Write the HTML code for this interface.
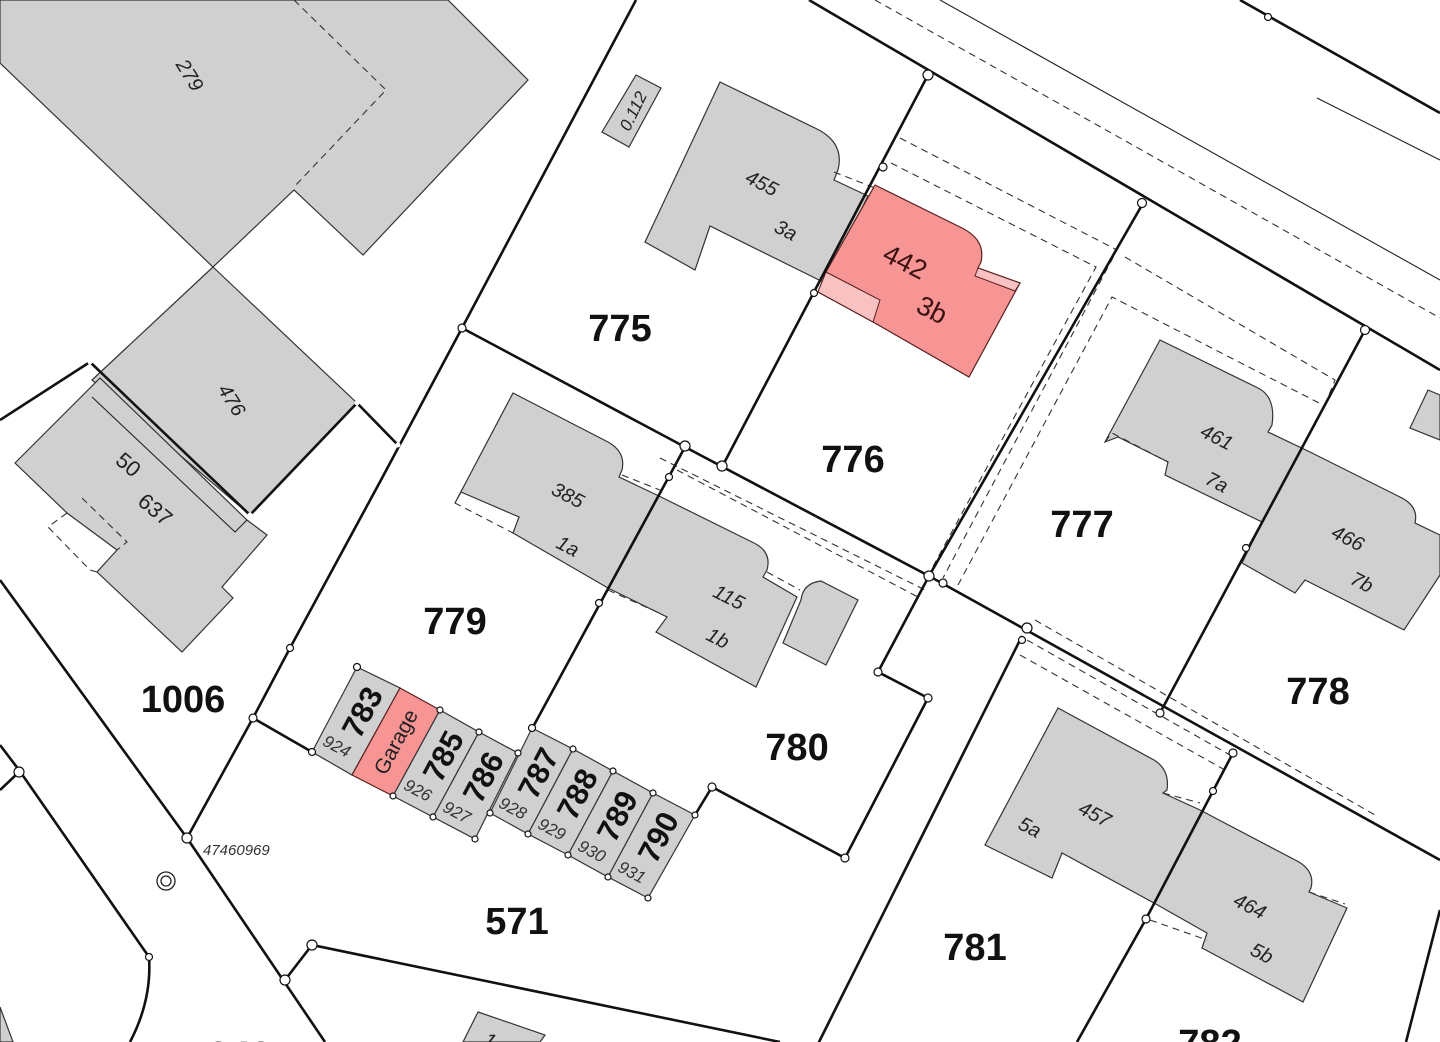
<!DOCTYPE html>
<html><head><meta charset="utf-8"><style>
html,body{margin:0;padding:0;background:#fff;}
svg{display:block;}
text{font-family:"Liberation Sans",sans-serif;}
.b{fill:#d0d0d0;stroke:#333;stroke-width:1.2;}
.p{fill:#f79494;stroke:#5a2020;stroke-width:1.2;}
.lp{fill:#f8c2c2;stroke:#5a2020;stroke-width:1;}
.L{stroke:#111;stroke-width:2.6;fill:none;}
.t{stroke:#222;stroke-width:1.1;fill:none;}
.d{stroke:#333;stroke-width:1.1;fill:none;stroke-dasharray:7 5;}
.n{fill:#fff;stroke:#111;stroke-width:1.2;}
.big{font-weight:bold;font-size:38px;fill:#111;text-anchor:middle;}
.sm{font-style:italic;font-size:20px;fill:#222;text-anchor:middle;}
.g{font-weight:bold;font-size:31px;fill:#111;text-anchor:middle;}
.gs{font-style:italic;font-size:17px;fill:#333;text-anchor:middle;}
.pk{font-size:27px;fill:#3a1010;text-anchor:middle;}
</style></head><body>
<svg width="1440" height="1042" viewBox="0 0 1440 1042" xmlns="http://www.w3.org/2000/svg">
<rect width="1440" height="1042" fill="#fff"/>
<!-- buildings left -->
<polygon class="b" points="0,0 448,0 528,80 363,255 294,190 213,267 0,63"/>
<polyline class="d" points="294,0 386,90 294,187"/>
<polygon class="b" points="213,267 357,403 250,515 92,380"/>
<polygon class="b" points="15,463 100,378 247,520 267,535 222,587 233,598 182,652 97,572 117,550 67,513"/>
<polyline class="d" points="67,513 48,527 90,570 97,572"/>
<polyline class="d" points="82,498 127,542 117,550"/>
<polyline class="t" points="92,397 235,532 247,520"/>
<line class="L" x1="90" y1="362" x2="250" y2="515"/>
<line class="L" x1="357" y1="403" x2="250" y2="515"/>
<line class="L" x1="0" y1="420" x2="90" y2="362"/>
<line class="L" x1="357" y1="403" x2="398" y2="445"/>
<!-- 0.112 box -->
<polygon class="b" points="636,75 661,88 629,147 602,132"/>
<text class="sm" style="font-size:17px" transform="translate(633,111) rotate(-64)" dy="6">0.112</text>
<!-- 455 -->
<path class="b" d="M720,82 L815,128 Q845,142 838,170 L834,180 L868,196 L825,283 L710,226 L695,270 L645,242 Z"/>
<line class="d" x1="834" y1="172" x2="880" y2="190"/>
<!-- 442 -->
<path class="p" d="M875,185 L962,228 Q986,240 981,262 L978,268 L1020,283 L969,377 L873,322 L818,292 L826,272 Z"/>
<polygon class="lp" points="826,272 880,300 873,322 818,292"/>
<polygon class="lp" points="978,268 1020,283 1015,291 975,276"/>
<!-- 385 + 115 -->
<path class="b" d="M513,393 L608,442 Q626,452 622,470 L619,477 L661,497 L754,543 Q772,552 767,570 L763,577 L797,597 L756,687 L656,632 L667,617 L608,588 L513,533 L519,517 L461,492 L455,503 Z"/>
<polyline class="d" points="461,492 455,503 513,533"/>
<polyline class="d" points="608,590 657,612"/>
<path class="b" d="M801,600 Q803,583 821,581 L858,600 L826,665 L783,643 Z"/>
<line class="d" x1="622" y1="475" x2="660" y2="490"/>
<line class="d" x1="767" y1="572" x2="800" y2="590"/>
<!-- 461 + 466 -->
<path class="b" d="M1160,340 L1258,388 Q1276,397 1272,425 L1268,432 L1310,452 L1400,497 Q1419,506 1415,523 L1440,535 L1440,575 L1404,630 L1305,580 L1295,593 L1242,563 L1262,522 L1165,475 L1168,462 L1118,437 L1105,442 Z"/>
<polyline class="d" points="1105,442 1112,433 1168,462"/>
<polygon class="b" points="1428,390 1440,395 1440,440 1410,428"/>
<!-- 457 + 464 -->
<path class="b" d="M1058,708 L1154,760 Q1170,770 1167,790 L1163,793 L1200,810 L1299,862 Q1315,872 1311,888 L1309,892 L1347,908 L1303,1002 L1202,948 L1207,933 L1154,903 L1062,853 L1052,878 L985,845 Z"/>
<line class="d" x1="1163" y1="793" x2="1200" y2="803"/>
<line class="d" x1="1309" y1="892" x2="1345" y2="904"/>
<line class="d" x1="1150" y1="920" x2="1207" y2="940"/>
<!-- bottom buildings -->
<polygon class="b" points="478,1012 545,1035 540,1042 463,1042"/>
<polygon class="b" points="0,1007 13,1042 0,1042"/>
<!-- dashed lines -->
<line class="d" x1="875" y1="0" x2="1440" y2="318"/>
<line class="t" x1="940" y1="0" x2="1440" y2="280"/>
<line class="t" x1="1317" y1="98" x2="1440" y2="160"/>
<polyline class="d" points="900,138 1117,250 943,578"/>
<polyline class="d" points="891,163 1096,267 930,572"/>
<polyline class="d" points="1125,257 1335,380 1325,405"/>
<polyline class="d" points="958,585 1112,297 1323,405"/>
<line class="d" x1="677" y1="470" x2="918" y2="597"/>
<line class="d" x1="660" y1="458" x2="925" y2="590"/>
<line class="d" x1="1027" y1="640" x2="1230" y2="755"/>
<line class="d" x1="1035" y1="620" x2="1375" y2="815"/>
<line class="d" x1="1020" y1="655" x2="1225" y2="770"/>
<!-- parcel lines -->
<polyline class="L" points="636,0 462,328 381,480 290,648 253,718 187,838 325,1042"/>
<polyline class="L" points="0,580 187,838"/>
<polyline class="L" points="0,745 19,770 149,957"/>
<path class="L" d="M149,957 Q152,1000 130,1042"/>
<line class="L" x1="19" y1="772" x2="0" y2="790"/>
<polyline class="L" points="285,980 312,945 780,1042"/>
<polyline class="L" points="462,328 685,447 929,576 1440,860"/>
<polyline class="L" points="928,75 722,467"/>
<polyline class="L" points="809,0 1440,370"/>
<polyline class="L" points="1142,205 929,576"/>
<polyline class="L" points="1365,330 1160,713"/>
<polyline class="L" points="1240,0 1440,113"/>
<polyline class="L" points="1022,636 800,1080"/>
<polyline class="L" points="929,576 878,672 928,698 845,858 712,787 695,815"/>
<polyline class="L" points="1233,753 1213,791 1146,919 1077,1042"/>
<polyline class="L" points="1440,910 1406,1042"/>
<polyline class="L" points="685,447 533,727"/>
<polyline class="L" points="253,718 312,752"/>
<!-- garages -->
<g>
<polygon class="b" stroke-width="2" stroke="#111" points="357,667 400,688 352,775 312,752"/>
<polygon class="p" stroke-width="2" stroke="#111" points="400,688 440,710 393,796 352,775"/>
<polygon class="b" stroke-width="2" stroke="#111" points="440,710 479,732 433,817 393,796"/>
<polygon class="b" stroke-width="2" stroke="#111" points="479,732 518,753 475,839 433,817"/>
<polygon class="b" stroke-width="2" stroke="#111" points="532,728 573,749 528,834 490,813"/>
<polygon class="b" stroke-width="2" stroke="#111" points="573,749 613,771 568,855 528,834"/>
<polygon class="b" stroke-width="2" stroke="#111" points="613,771 653,793 608,877 568,855"/>
<polygon class="b" stroke-width="2" stroke="#111" points="653,793 695,815 648,898 608,877"/>
</g>
<text class="g" transform="translate(362,712) rotate(-62)" dy="11">783</text>
<text font-size="21" fill="#222" text-anchor="middle" transform="translate(396,742) rotate(-62)" dy="7">Garage</text>
<text class="g" transform="translate(443,756) rotate(-62)" dy="11">785</text>
<text class="g" transform="translate(483,777) rotate(-62)" dy="11">786</text>
<text class="g" transform="translate(538,773) rotate(-62)" dy="11">787</text>
<text class="g" transform="translate(577,794) rotate(-62)" dy="11">788</text>
<text class="g" transform="translate(617,816) rotate(-62)" dy="11">789</text>
<text class="g" transform="translate(658,837) rotate(-62)" dy="11">790</text>
<text class="gs" transform="translate(337,746) rotate(28)" dy="6">924</text>
<text class="gs" transform="translate(418,790) rotate(28)" dy="6">926</text>
<text class="gs" transform="translate(457,812) rotate(28)" dy="6">927</text>
<text class="gs" transform="translate(513,808) rotate(28)" dy="6">928</text>
<text class="gs" transform="translate(552,829) rotate(28)" dy="6">929</text>
<text class="gs" transform="translate(592,851) rotate(28)" dy="6">930</text>
<text class="gs" transform="translate(632,872) rotate(28)" dy="6">931</text>
<!-- nodes -->
<g>
<circle class="n" cx="462" cy="328" r="4"/><circle class="n" cx="685" cy="446" r="5"/><circle class="n" cx="722" cy="466" r="5"/>
<circle class="n" cx="669" cy="477" r="3.5"/><circle class="n" cx="599" cy="603" r="3.5"/><circle class="n" cx="928" cy="75" r="5"/>
<circle class="n" cx="883" cy="167" r="4"/><circle class="n" cx="814" cy="293" r="3.5"/><circle class="n" cx="1142" cy="203" r="4.5"/>
<circle class="n" cx="1365" cy="330" r="4.5"/><circle class="n" cx="1268" cy="17" r="3.5"/><circle class="n" cx="1246" cy="548" r="3.5"/>
<circle class="n" cx="929" cy="576" r="5"/><circle class="n" cx="943" cy="583" r="4"/><circle class="n" cx="1027" cy="628" r="5"/>
<circle class="n" cx="1022" cy="640" r="3.5"/><circle class="n" cx="878" cy="672" r="4"/><circle class="n" cx="928" cy="698" r="4"/>
<circle class="n" cx="845" cy="858" r="4"/><circle class="n" cx="712" cy="787" r="4"/><circle class="n" cx="1160" cy="713" r="4"/>
<circle class="n" cx="1233" cy="753" r="4"/><circle class="n" cx="1213" cy="791" r="3.5"/><circle class="n" cx="1146" cy="919" r="4"/>
<circle class="n" cx="290" cy="648" r="3.5"/><circle class="n" cx="253" cy="718" r="4"/><circle class="n" cx="187" cy="838" r="5"/>
<circle class="n" cx="19" cy="772" r="5"/><circle class="n" cx="149" cy="957" r="3.5"/><circle class="n" cx="285" cy="980" r="5"/>
<circle class="n" cx="312" cy="945" r="5"/><circle class="n" cx="357" cy="667" r="3.5"/><circle class="n" cx="312" cy="752" r="3.5"/>
<circle class="n" cx="440" cy="710" r="3"/><circle class="n" cx="479" cy="732" r="3"/><circle class="n" cx="518" cy="753" r="3"/>
<circle class="n" cx="393" cy="796" r="3"/><circle class="n" cx="433" cy="817" r="3"/><circle class="n" cx="475" cy="839" r="3"/>
<circle class="n" cx="532" cy="728" r="3.5"/><circle class="n" cx="573" cy="749" r="3"/><circle class="n" cx="613" cy="771" r="3"/>
<circle class="n" cx="653" cy="793" r="3"/><circle class="n" cx="695" cy="815" r="3"/><circle class="n" cx="528" cy="834" r="3"/>
<circle class="n" cx="568" cy="855" r="3"/><circle class="n" cx="608" cy="877" r="3"/><circle class="n" cx="648" cy="898" r="3"/>
<circle class="n" cx="490" cy="813" r="3"/>
<circle cx="90" cy="362" r="2.5" fill="#fff"/><circle cx="250" cy="515" r="2.5" fill="#fff"/>
<circle cx="357" cy="403" r="2.5" fill="#fff"/><circle cx="398" cy="445" r="2.5" fill="#fff"/>
</g>
<circle cx="166" cy="881" r="9" fill="none" stroke="#222" stroke-width="1.3"/>
<circle cx="166" cy="881" r="5" fill="none" stroke="#222" stroke-width="1.3"/>
<!-- labels -->
<text class="big" x="620" y="341">775</text>
<text class="big" x="853" y="472">776</text>
<text class="big" x="1082" y="537">777</text>
<text class="big" x="1318" y="704">778</text>
<text class="big" x="455" y="634">779</text>
<text class="big" x="797" y="760">780</text>
<text class="big" x="975" y="960">781</text>
<text class="big" x="1210" y="1056">782</text>
<text class="big" x="517" y="934">571</text>
<text class="big" x="183" y="712">1006</text>
<text class="big" x="240" y="1068">949</text>
<text class="sm" transform="translate(190,75) rotate(58)" dy="7">279</text>
<text class="sm" transform="translate(232,400) rotate(58)" dy="7">476</text>
<text class="sm" style="font-style:normal;font-size:22px" transform="translate(128,465) rotate(40)" dy="7">50</text>
<text class="sm" style="font-style:normal;font-size:22px" transform="translate(155,510) rotate(40)" dy="7">637</text>
<text class="sm" transform="translate(762,183) rotate(27)" dy="7">455</text>
<text class="sm" transform="translate(786,230) rotate(27)" dy="7">3a</text>
<text class="pk" transform="translate(905,262) rotate(27)" dy="9">442</text>
<text class="pk" transform="translate(932,310) rotate(27)" dy="9">3b</text>
<text class="sm" transform="translate(568,495) rotate(27)" dy="7">385</text>
<text class="sm" transform="translate(568,546) rotate(27)" dy="7">1a</text>
<text class="sm" transform="translate(729,597) rotate(27)" dy="7">115</text>
<text class="sm" transform="translate(718,638) rotate(27)" dy="7">1b</text>
<text class="sm" transform="translate(1217,437) rotate(27)" dy="7">461</text>
<text class="sm" transform="translate(1217,482) rotate(27)" dy="7">7a</text>
<text class="sm" transform="translate(1348,538) rotate(27)" dy="7">466</text>
<text class="sm" transform="translate(1362,582) rotate(27)" dy="7">7b</text>
<text class="sm" transform="translate(1095,814) rotate(27)" dy="7">457</text>
<text class="sm" transform="translate(1030,827) rotate(27)" dy="7">5a</text>
<text class="sm" transform="translate(1250,906) rotate(27)" dy="7">464</text>
<text class="sm" transform="translate(1262,953) rotate(27)" dy="7">5b</text>
<text class="sm" transform="translate(490,1040) rotate(27)" dy="7">1</text>
<text font-style="italic" font-size="15" fill="#333" x="203" y="855">47460969</text>
</svg>
</body></html>
